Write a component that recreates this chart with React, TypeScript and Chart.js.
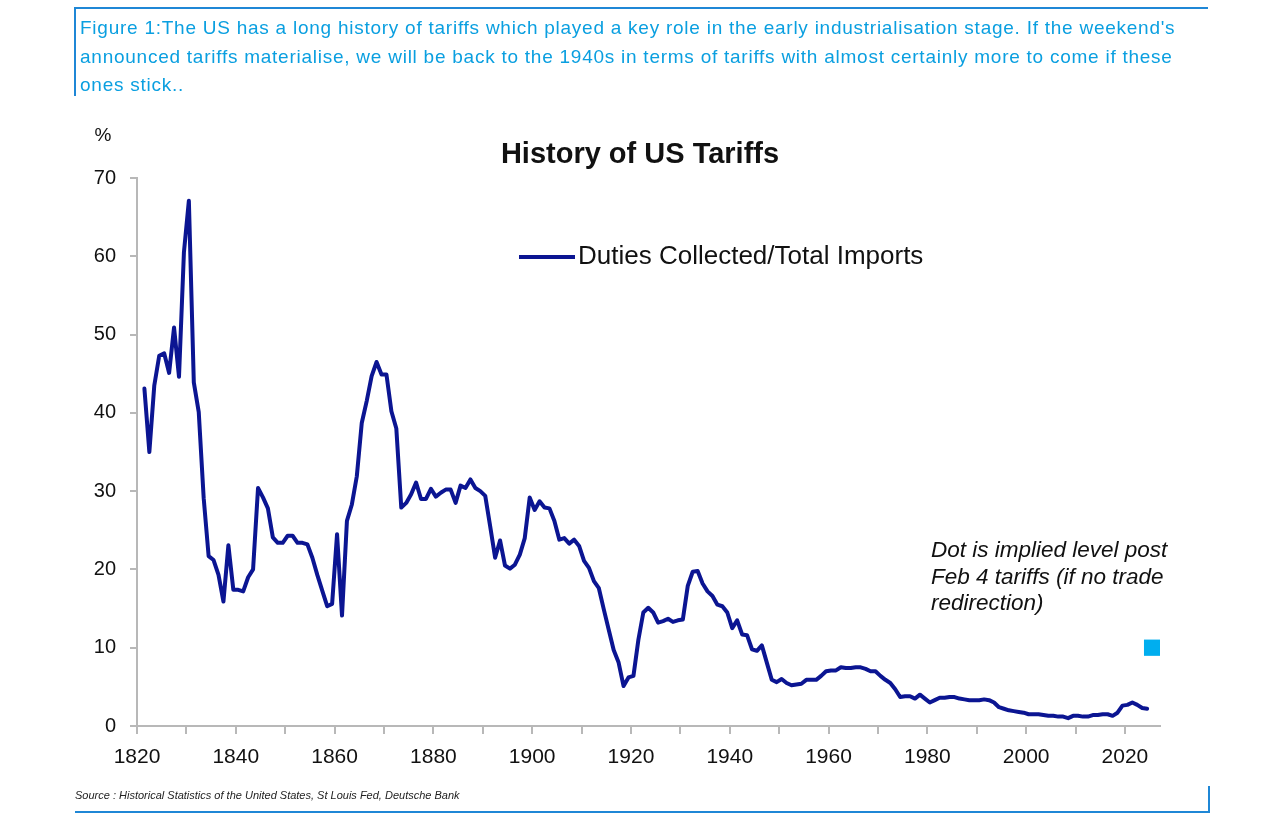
import React, { useEffect, useRef } from 'react';
import { Chart, registerables } from 'chart.js';

Chart.register(...registerables);

// ---- Data: duties collected / total imports (%), one value per year ----
const FIRST_YEAR = 1821;
const tariffs1821to1869 = [
  43.1, 35.0, 43.5, 47.3, 47.6, 45.1, 50.9, 44.6, 60.5, 67.1,
  43.9, 40.1, 29.1, 21.7, 21.2, 19.3, 15.9, 23.1, 17.4, 17.4,
  17.2, 19.0, 20.0, 30.4, 29.2, 27.8, 24.1, 23.4, 23.4, 24.3,
  24.3, 23.4, 23.4, 23.2, 21.5, 19.3, 17.3, 15.3, 15.6, 24.5,
  14.1, 26.2, 28.3, 31.9, 38.7, 41.5, 44.7, 46.5, 44.9,
];
const tariffs1870to1919 = [
  44.9, 40.2, 38.0, 27.9, 28.5, 29.6, 31.1, 29.0, 29.0, 30.3,
  29.3, 29.8, 30.2, 30.2, 28.5, 30.7, 30.4, 31.5, 30.4, 30.0,
  29.4, 25.5, 21.5, 23.7, 20.5, 20.1, 20.6, 21.9, 24.0, 29.2,
  27.6, 28.7, 27.9, 27.8, 26.2, 23.8, 24.0, 23.3, 23.8, 23.0,
  21.1, 20.2, 18.5, 17.6, 14.9, 12.3, 9.7, 8.1, 5.1, 6.2,
];
const tariffs1920to1969 = [
  6.4, 11.0, 14.5, 15.1, 14.5, 13.2, 13.4, 13.7, 13.3, 13.5,
  13.6, 17.9, 19.7, 19.8, 18.2, 17.2, 16.6, 15.5, 15.3, 14.5,
  12.5, 13.5, 11.7, 11.6, 9.8, 9.6, 10.3, 8.1, 5.9, 5.6,
  6.0, 5.5, 5.2, 5.3, 5.4, 5.9, 5.9, 5.9, 6.4, 7.0,
  7.1, 7.1, 7.5, 7.4, 7.4, 7.5, 7.5, 7.3, 7.0, 7.0,
];
const tariffs1970to2024 = [
  6.4, 5.9, 5.5, 4.7, 3.7, 3.8, 3.8, 3.5, 4.0, 3.5,
  3.0, 3.3, 3.6, 3.6, 3.7, 3.7, 3.5, 3.4, 3.3, 3.3,
  3.3, 3.4, 3.3, 3.0, 2.4, 2.2, 2.0, 1.9, 1.8, 1.7,
  1.5, 1.5, 1.5, 1.4, 1.3, 1.3, 1.2, 1.2, 1.0, 1.3,
  1.3, 1.2, 1.2, 1.4, 1.4, 1.5, 1.5, 1.3, 1.7, 2.6,
  2.7, 3.0, 2.7, 2.3, 2.2,
];
const impliedYear = 2025;
const impliedLevel = 10;

const X_MIN = 1820;
const X_MAX = 2027.1;
const X_TICK_STEP = 10;
const X_LABEL_STEP = 20;
const Y_MIN = 0;
const Y_MAX = 70;
const Y_TICK_STEP = 10;

const TITLE = 'History of US Tariffs';
const SERIES_LABEL = 'Duties Collected/Total Imports';
const Y_UNIT = '%';
const NOTE_LINES = ['Dot is implied level post', 'Feb 4 tariffs (if no trade', 'redirection)'];
const CAPTION_LINES = [
  "Figure 1:The US has a long history of tariffs which played a key role in the early industrialisation stage. If the weekend's",
  'announced tariffs materialise, we will be back to the 1940s in terms of tariffs with almost certainly more to come if these',
  'ones stick..',
];
const SOURCE = 'Source : Historical Statistics of the United States, St Louis Fed, Deutsche Bank';

const LINE_COLOR = '#0b1592';
const DOT_COLOR = '#00aeef';
const AXIS_COLOR = '#b8b8b8';
const FRAME_COLOR = '#1f87d6';
const CAPTION_COLOR = '#0a9fe0';
const FONT = '"Liberation Sans", Arial, sans-serif';

const allValues = [...tariffs1821to1869, ...tariffs1870to1919, ...tariffs1920to1969, ...tariffs1970to2024];
const years = allValues.map((_, i) => FIRST_YEAR + i);

const overlayPlugin = {
  id: 'overlayText',
  afterDraw(chart: any) {
    const ctx = chart.ctx;
    ctx.save();
    ctx.fillStyle = '#111';
    ctx.textBaseline = 'alphabetic';
    // unit
    ctx.font = `19px ${FONT}`;
    ctx.textAlign = 'center';
    ctx.fillText(Y_UNIT, 103, 141);
    // title
    ctx.font = `bold 29px ${FONT}`;
    ctx.fillText(TITLE, 640, 163);
    // legend
    ctx.strokeStyle = LINE_COLOR;
    ctx.lineWidth = 4;
    ctx.beginPath();
    ctx.moveTo(519, 257);
    ctx.lineTo(575, 257);
    ctx.stroke();
    ctx.font = `26px ${FONT}`;
    ctx.textAlign = 'left';
    ctx.textBaseline = 'middle';
    ctx.fillText(SERIES_LABEL, 578, 257);
    // note
    ctx.textBaseline = 'alphabetic';
    ctx.font = `italic 22.5px ${FONT}`;
    NOTE_LINES.forEach((t, i) => ctx.fillText(t, 931, 557 + i * 26.5));
    ctx.restore();
  },
};

export default function App() {
  const canvasRef = useRef<HTMLCanvasElement | null>(null);

  useEffect(() => {
    if (!canvasRef.current) return;
    const chart = new Chart(canvasRef.current, {
      type: 'line',
      data: {
        datasets: [
          {
            label: SERIES_LABEL,
            // each annual value is plotted at mid-year
            data: years.map((y, i) => ({ x: y + 0.5, y: allValues[i] })),
            borderColor: LINE_COLOR,
            borderWidth: 4,
            pointRadius: 0,
            tension: 0,
            borderJoinStyle: 'round',
            borderCapStyle: 'round',
          },
          {
            label: 'Implied level',
            data: [{ x: impliedYear + 0.5, y: impliedLevel }],
            showLine: false,
            pointStyle: 'rect',
            pointRadius: 11.5,
            backgroundColor: DOT_COLOR,
            borderColor: DOT_COLOR,
            borderWidth: 0,
          },
        ],
      },
      options: {
        responsive: false,
        animation: false,
        devicePixelRatio: 1,
        layout: { padding: { left: 0, right: 120, top: 178, bottom: 57 } },
        plugins: {
          legend: { display: false },
          title: { display: false },
          tooltip: { enabled: false },
        },
        scales: {
          x: {
            type: 'linear',
            min: X_MIN,
            max: X_MAX,
            afterFit: (s: any) => { s.height = 40; },
            border: { display: true, color: AXIS_COLOR, width: 2 },
            grid: { display: true, drawOnChartArea: false, drawTicks: true, tickLength: 8, color: AXIS_COLOR, lineWidth: 2 },
            ticks: {
              stepSize: X_TICK_STEP,
              includeBounds: false,
              autoSkip: false,
              maxRotation: 0,
              padding: 11,
              color: '#111',
              font: { family: FONT, size: 21 },
              callback: (v: any) => (Number(v) % X_LABEL_STEP === 0 ? String(v) : ''),
            },
          },
          y: {
            min: Y_MIN,
            max: Y_MAX,
            afterFit: (s: any) => { s.width = 137; },
            border: { display: true, color: AXIS_COLOR, width: 2 },
            grid: { display: true, drawOnChartArea: false, drawTicks: true, tickLength: 7, color: AXIS_COLOR, lineWidth: 2 },
            ticks: {
              stepSize: Y_TICK_STEP,
              padding: 14,
              color: '#111',
              font: { family: FONT, size: 20 },
            },
          },
        },
      },
      plugins: [overlayPlugin],
    } as any);
    return () => chart.destroy();
  }, []);

  return (
    <div style={{ position: 'absolute', left: 0, top: 0, width: 1280, height: 823, background: '#fff', overflow: 'hidden' }}>
      <canvas ref={canvasRef} width={1280} height={823} style={{ position: 'absolute', left: 0, top: 0, width: 1280, height: 823 }} />
      {/* caption frame */}
      <div style={{ position: 'absolute', left: 75, top: 7, width: 1133, height: 2, background: FRAME_COLOR }} />
      <div style={{ position: 'absolute', left: 74, top: 7, width: 2, height: 89, background: FRAME_COLOR }} />
      {CAPTION_LINES.map((t, i) => (
        <div
          key={i}
          style={{
            position: 'absolute', left: 80, top: 14 + i * 28.5, lineHeight: '28px', whiteSpace: 'nowrap',
            fontFamily: FONT, fontSize: 19, letterSpacing: '0.75px', color: CAPTION_COLOR,
          }}
        >
          {t}
        </div>
      ))}
      {/* source frame */}
      <div
        style={{
          position: 'absolute', left: 75, top: 788, lineHeight: '14px', whiteSpace: 'nowrap',
          fontFamily: FONT, fontSize: 11, fontStyle: 'italic', color: '#222',
        }}
      >
        {SOURCE}
      </div>
      <div style={{ position: 'absolute', left: 75, top: 811, width: 1135, height: 2, background: FRAME_COLOR }} />
      <div style={{ position: 'absolute', left: 1208, top: 786, width: 2, height: 27, background: FRAME_COLOR }} />
    </div>
  );
}
